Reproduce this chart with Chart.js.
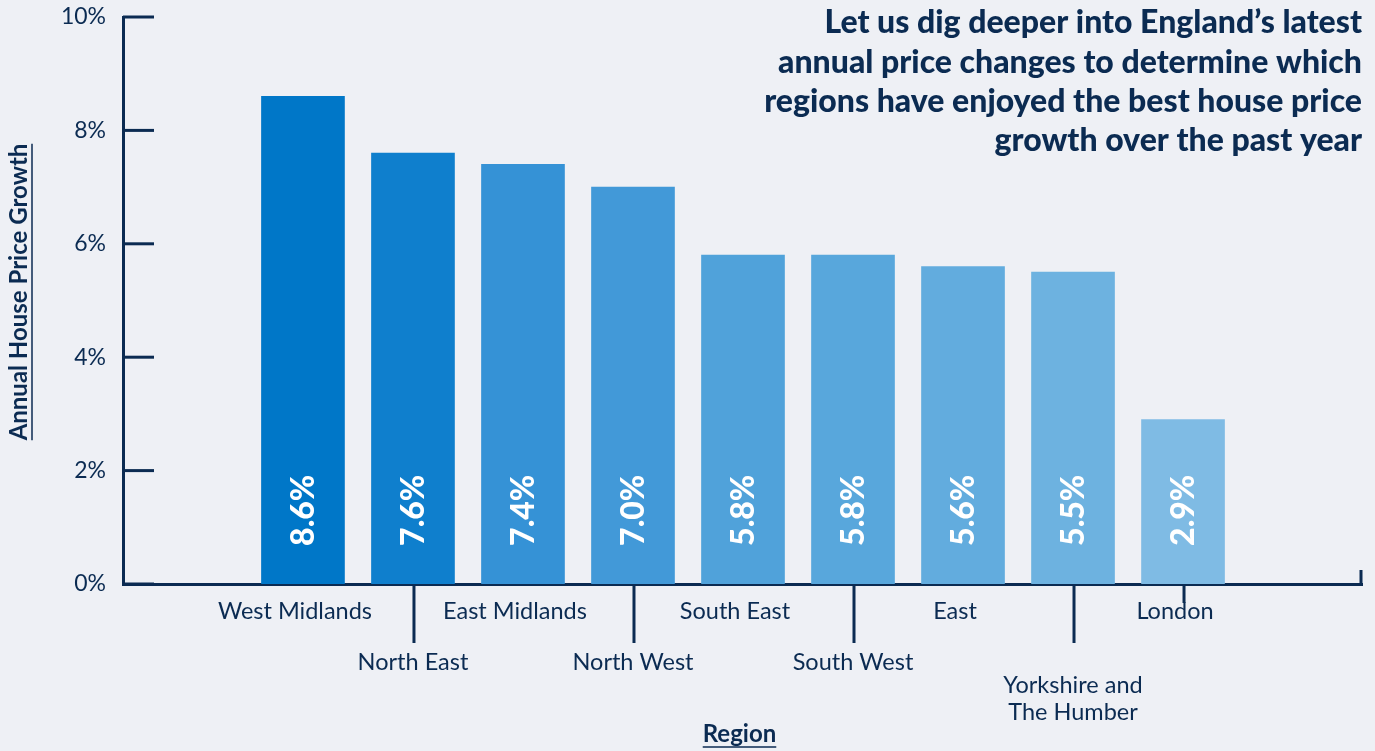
<!DOCTYPE html>
<html><head><meta charset="utf-8">
<script src="https://cdn.jsdelivr.net/npm/chart.js@4/dist/chart.umd.min.js"></script>
<style>
html,body{margin:0;padding:0;background:#eef0f5;}
#wrap{width:1375px;height:751px;position:relative;}
</style></head><body>
<div id="wrap"><canvas id="c" width="1375" height="751"></canvas></div>
<script>
const regions = ['West Midlands','North East','East Midlands','North West','South East','South West','East','Yorkshire and The Humber','London'];
const regionLabelLines = [['West Midlands'],['North East'],['East Midlands'],['North West'],['South East'],['South West'],['East'],['Yorkshire and','The Humber'],['London']];
const growth = [8.6,7.6,7.4,7.0,5.8,5.8,5.6,5.5,2.9];
const barColors = ['#0077c8','#0f7fcd','#3592d6','#4299d8','#50a2da','#58a7dc','#62acde','#6db2e0','#7fbbe4'];
const yTicks = [0,2,4,6,8,10];
const titleLines = ["Let us dig deeper into England\u2019s latest","annual price changes to determine which","regions have enjoyed the best house price","growth over the past year"];
const yTitle = 'Annual House Price Growth';
const xTitle = 'Region';

const NAVY = '#0b2b52';
const BG = '#eef0f5';

const decor = {
  id: 'decor',
  beforeDraw(chart) {
    const ctx = chart.ctx;
    ctx.save();
    ctx.fillStyle = BG;
    ctx.fillRect(0, 0, chart.width, chart.height);
    ctx.restore();
  },
  afterDatasetsDraw(chart) {
    const ctx = chart.ctx;
    const ys = chart.scales.y;
    const meta = chart.getDatasetMeta(0);
    ctx.save();
    ctx.fillStyle = '#ffffff';
    ctx.font = '900 32px Lato';
    ctx.textAlign = 'center';
    ctx.textBaseline = 'middle';
    meta.data.forEach((bar, i) => {
      ctx.save();
      ctx.translate(bar.x, ys.getPixelForValue(1.3));
      ctx.rotate(-Math.PI / 2);
      ctx.fillText(growth[i].toFixed(1) + '%', 0, 1);
      ctx.restore();
    });
    ctx.restore();
  },
  afterDraw(chart) {
    const ctx = chart.ctx;
    const xs = chart.scales.x, ys = chart.scales.y;
    const area = chart.chartArea;
    ctx.save();
    ctx.strokeStyle = NAVY;
    ctx.lineWidth = 3;
    // y tick marks inside
    yTicks.forEach(v => {
      const y = ys.getPixelForValue(v);
      ctx.beginPath();
      ctx.moveTo(area.left, y);
      ctx.lineTo(area.left + 31, y);
      ctx.stroke();
    });
    // right end tick
    ctx.beginPath();
    ctx.moveTo(area.right - 1, area.bottom);
    ctx.lineTo(area.right - 1, area.bottom - 14);
    ctx.stroke();
    // x tick lines
    regions.forEach((r, i) => {
      const x = xs.getPixelForValue(i);
      let len = 0;
      if (i % 2 === 1) len = 59;
      if (i === regions.length - 1) len = 19;
      if (len) {
        ctx.beginPath();
        ctx.moveTo(x + 1, area.bottom);
        ctx.lineTo(x + 1, area.bottom + len);
        ctx.stroke();
      }
    });
    // x labels
    ctx.fillStyle = NAVY;
    ctx.font = '23.5px Lato';
    ctx.textAlign = 'center';
    ctx.textBaseline = 'middle';
    regionLabelLines.forEach((lines, i) => {
      const x = xs.getPixelForValue(i);
      if (i % 2 === 0) {
        lines.forEach((t, k) => ctx.fillText(t, x - 8, area.bottom + 27 + k * 27));
      } else {
        const base = lines.length > 1 ? area.bottom + 101 : area.bottom + 78;
        lines.forEach((t, k) => ctx.fillText(t, x, base + k * 27));
      }
    });
    // x title
    ctx.font = 'bold 24px Lato';
    const xc = (area.left + area.right) / 2 - 3;
    ctx.fillText(xTitle, xc, 734);
    const xw = ctx.measureText(xTitle).width;
    ctx.lineWidth = 1.5;
    ctx.beginPath();
    ctx.moveTo(xc - xw / 2, 747);
    ctx.lineTo(xc + xw / 2, 747);
    ctx.stroke();
    // y title
    ctx.save();
    ctx.translate(19, 292);
    ctx.rotate(-Math.PI / 2);
    ctx.fillText(yTitle, 0, 0);
    const yw = ctx.measureText(yTitle).width;
    ctx.beginPath();
    ctx.moveTo(-yw / 2, 13);
    ctx.lineTo(yw / 2, 13);
    ctx.stroke();
    ctx.restore();
    // title
    ctx.font = '900 32px Lato';
    ctx.textAlign = 'right';
    titleLines.forEach((t, k) => ctx.fillText(t, 1362, 23 + k * 39.3));
    ctx.restore();
  }
};

function build() {
  new Chart(document.getElementById('c'), {
    type: 'bar',
    data: {
      datasets: [{
        data: growth.map((v, i) => ({ x: i, y: v })),
        backgroundColor: barColors,
        barThickness: 83,
        borderWidth: 0
      }]
    },
    options: {
      responsive: false,
      animation: false,
      layout: { padding: { top: 17, right: 13, left: 0, bottom: 0 } },
      plugins: { legend: { display: false }, tooltip: { enabled: false } },
      scales: {
        x: {
          type: 'linear', min: -1.636, max: 9.627, offset: false, bounds: 'data',
          ticks: { display: false },
          grid: { display: false, drawTicks: false, offset: false },
          border: { display: true, color: NAVY, width: 3 },
          afterFit(s) { s.height = 167; s.paddingLeft = 0; s.paddingRight = 0; }
        },
        y: {
          min: 0, max: 10,
          afterBuildTicks(s) { s.ticks = yTicks.map(v => ({ value: v })); },
          ticks: { callback: v => v + '%', color: NAVY, font: { family: 'Lato', size: 23 }, padding: 17 },
          grid: { display: false, drawTicks: false },
          border: { display: true, color: NAVY, width: 3 },
          afterFit(s) { s.width = 123; s.paddingTop = 0; s.paddingBottom = 0; }
        }
      }
    },
    plugins: [decor]
  });
}
Promise.all([
  document.fonts.load('23px Lato'),
  document.fonts.load('bold 30px Lato'),
  document.fonts.load('900 32px Lato')
]).then(build, build);
</script>
</body></html>
